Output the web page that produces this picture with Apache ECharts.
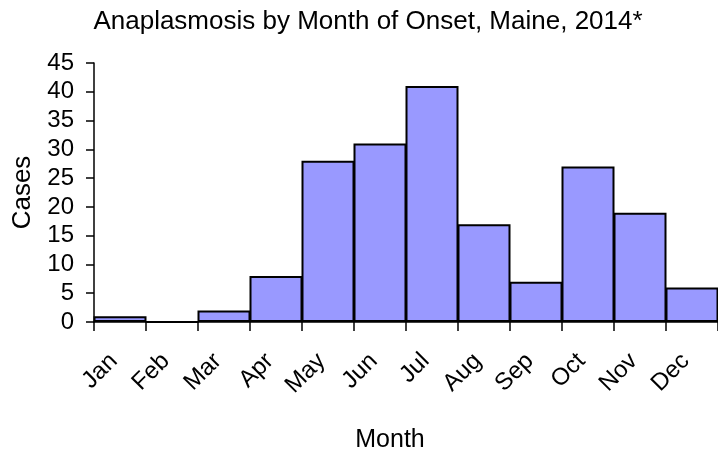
<!DOCTYPE html>
<html>
<head>
<meta charset="utf-8">
<script src="https://cdn.jsdelivr.net/npm/echarts@6/dist/echarts.min.js"></script>
<style>
  html, body { margin: 0; padding: 0; background: #fff; }
  #chart { width: 718px; height: 458px; }
</style>
</head>
<body>
<div id="chart"></div>
<script>
// 每月发病数
var months = ['Jan', 'Feb', 'Mar', 'Apr', 'May', 'Jun', 'Jul', 'Aug', 'Sep', 'Oct', 'Nov', 'Dec']
var cases = [1, 0, 2, 8, 28, 31, 41, 17, 7, 27, 19, 6]
var yTicks = [0, 5, 10, 15, 20, 25, 30, 35, 40, 45]

var font = 'Liberation Sans, Arial, sans-serif'
var chart = echarts.init(document.getElementById('chart'))
var option = {
  backgroundColor: '#ffffff',
  animation: false,
  title: {
    text: 'Anaplasmosis by Month of Onset, Maine, 2014*',
    left: 363,
    textAlign: 'center',
    top: 4,
    textStyle: {fontFamily: font, fontSize: 26, fontWeight: 'normal', color: '#000'}
  },
  grid: {left: 94, right: 0, top: 63, bottom: 134},
  xAxis: {
    type: 'category',
    data: months,
    axisLine: {show: true, lineStyle: {color: '#000', width: 1.5}},
    axisTick: {show: true, length: 9, lineStyle: {color: '#000', width: 1.5}},
    axisLabel: {
      rotate: 45,
      margin: 29,
      padding: [0, 9, 0, 0],
      fontFamily: font,
      fontSize: 24,
      color: '#000'
    },
    name: 'Month',
    nameLocation: 'middle',
    nameGap: 106,
    nameTextStyle: {fontFamily: font, fontSize: 25, color: '#000', padding: [0, 32, 0, 0]}
  },
  yAxis: {
    type: 'value',
    min: yTicks[0],
    max: yTicks[yTicks.length - 1],
    interval: 5,
    splitLine: {show: false},
    axisLine: {show: true, lineStyle: {color: '#000', width: 1.5}},
    axisTick: {show: true, length: 8, lineStyle: {color: '#000', width: 1.5}},
    axisLabel: {margin: 20, fontFamily: font, fontSize: 24, color: '#000'},
    name: 'Cases',
    nameLocation: 'middle',
    nameGap: 58,
    nameRotate: 90,
    nameTextStyle: {fontFamily: font, fontSize: 26, color: '#000'}
  },
  series: [{
    type: 'bar',
    data: cases,
    barWidth: 53,
    itemStyle: {color: '#9999ff', borderColor: '#000', borderWidth: 2}
  }]
}
chart.setOption(option)
</script>
</body>
</html>
